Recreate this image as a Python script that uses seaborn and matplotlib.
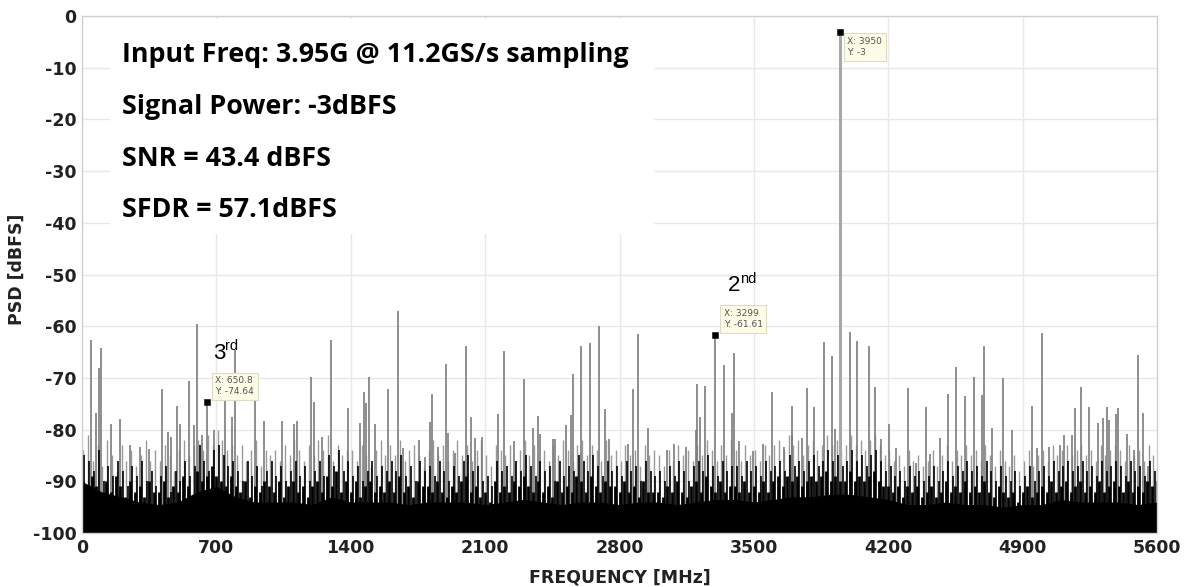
import numpy as np
import matplotlib
matplotlib.use("Agg")
import matplotlib.pyplot as plt
import seaborn as sns

# ---------------- data ----------------
x_ticks = [0, 700, 1400, 2100, 2800, 3500, 4200, 4900, 5600]
y_ticks = [0, -10, -20, -30, -40, -50, -60, -70, -80, -90, -100]

# solid noise floor top, one value per 100 MHz (0 ... 5600)
floor_db = [-90, -92, -93, -94, -94.5, -94, -92, -91, -93, -94,
            -94, -94, -94.5, -93, -94, -94, -94, -94.5, -94, -94,
            -94, -94.5, -94, -93.5, -94, -94.5, -94, -94, -94.5, -94,
            -94, -94.5, -94, -93.5, -93.5, -94, -93.5, -93, -93, -92.5,
            -92.5, -93, -93.5, -94.5, -94.5, -94, -94.5, -94.5, -95, -94.5,
            -94.5, -93.5, -94, -94, -94, -94.5, -94]

# black noise peaks, one value per 25 MHz
noise_db = [
    -85, -86, -88, -84, -90, -87, -89, -86,
    -88, -91, -87, -89, -86, -90, -88, -91,
    -89, -87, -92, -88, -90, -86, -89, -87,
    -83, -86, -88, -84, -83, -85, -87, -86,
    -88, -90, -86, -89, -87, -91, -88, -86,
    -89, -87, -90, -88, -86, -89, -87, -90,
    -88, -86, -89, -85, -87, -84, -88, -86,
    -89, -87, -90, -88, -86, -89, -87, -88,
    -86, -88, -85, -89, -87, -90, -86, -88,
    -87, -89, -86, -88, -90, -87, -89, -86,
    -85, -88, -87, -90, -89, -91, -86, -88,
    -87, -89, -86, -88, -85, -87, -89, -86,
    -88, -87, -90, -86, -89, -87, -88, -85,
    -86, -88, -85, -87, -89, -86, -88, -87,
    -89, -86, -88, -87, -90, -86, -88, -89,
    -88, -90, -87, -89, -86, -88, -90, -87,
    -86, -88, -85, -87, -89, -86, -88, -87,
    -87, -89, -86, -88, -87, -89, -86, -88,
    -87, -86, -88, -85, -87, -86, -88, -86,
    -85, -87, -86, -84, -86, -85, -87, -86,
    -84, -86, -85, -87, -85, -84, -86, -88,
    -87, -89, -88, -90, -87, -89, -88, -90,
    -89, -87, -90, -88, -86, -89, -87, -88,
    -86, -88, -87, -89, -86, -88, -90, -87,
    -89, -90, -88, -91, -89, -87, -90, -88,
    -87, -89, -86, -88, -87, -86, -88, -87,
    -86, -88, -87, -89, -86, -88, -87, -86,
    -87, -89, -86, -88, -87, -89, -86, -88,
]

# lower black noise texture, one value per 25 MHz
noise2_db = [
    -90, -92, -89, -91, -93, -90, -92, -89,
    -91, -93, -90, -92, -91, -93, -90, -92,
    -92, -90, -93, -91, -92, -89, -91, -93,
    -88, -90, -89, -87, -89, -90, -91, -89,
    -91, -92, -90, -93, -91, -92, -90, -91,
    -92, -90, -93, -91, -90, -92, -91, -93,
    -91, -90, -92, -89, -91, -88, -92, -90,
    -92, -90, -93, -91, -90, -92, -91, -92,
    -90, -92, -89, -92, -91, -93, -90, -91,
    -91, -92, -90, -92, -93, -91, -92, -90,
    -89, -92, -91, -93, -92, -94, -90, -92,
    -91, -92, -90, -91, -89, -91, -92, -90,
    -92, -91, -93, -90, -92, -91, -92, -89,
    -90, -92, -89, -91, -92, -90, -91, -91,
    -92, -90, -92, -91, -93, -90, -92, -92,
    -92, -93, -91, -92, -90, -92, -93, -91,
    -90, -92, -89, -91, -92, -90, -92, -91,
    -91, -92, -90, -92, -91, -92, -90, -92,
    -90, -89, -91, -89, -90, -89, -91, -90,
    -89, -90, -89, -88, -90, -89, -90, -90,
    -88, -90, -89, -90, -89, -88, -90, -91,
    -91, -92, -91, -93, -91, -92, -91, -93,
    -92, -91, -93, -92, -90, -92, -91, -92,
    -90, -92, -91, -92, -90, -92, -93, -91,
    -92, -93, -92, -94, -92, -91, -93, -92,
    -91, -92, -90, -92, -91, -90, -92, -91,
    -90, -92, -91, -92, -90, -92, -91, -90,
    -91, -92, -90, -92, -91, -92, -90, -91,
]

# grey low-level spurs, one value per 25 MHz
grey_db = [
    -84, -81, -86, -83, -87, -82, -85, -88,
    -83, -86, -84, -87, -85, -82, -86, -84,
    -86, -83, -85, -88, -84, -82, -85, -83,
    -82, -84, -81, -83, -80, -82, -84, -83,
    -85, -83, -86, -84, -82, -87, -84, -85,
    -84, -86, -83, -85, -82, -84, -86, -83,
    -85, -82, -84, -81, -86, -83, -85, -84,
    -84, -86, -83, -85, -87, -84, -82, -85,
    -83, -85, -82, -86, -84, -83, -85, -87,
    -84, -82, -85, -83, -86, -84, -82, -85,
    -83, -86, -84, -82, -85, -87, -83, -84,
    -85, -83, -86, -84, -82, -85, -83, -86,
    -84, -86, -83, -85, -82, -84, -86, -83,
    -82, -85, -83, -84, -86, -82, -85, -84,
    -86, -83, -85, -84, -87, -83, -85, -84,
    -85, -87, -84, -86, -83, -85, -84, -86,
    -83, -85, -82, -84, -86, -83, -85, -82,
    -84, -86, -83, -85, -84, -86, -83, -85,
    -83, -82, -84, -81, -83, -82, -85, -83,
    -82, -84, -83, -81, -83, -82, -84, -83,
    -81, -83, -82, -84, -82, -81, -83, -85,
    -84, -86, -85, -87, -84, -86, -85, -87,
    -86, -84, -87, -85, -83, -86, -84, -85,
    -83, -85, -84, -86, -83, -85, -87, -84,
    -86, -87, -85, -88, -86, -84, -87, -85,
    -84, -86, -83, -85, -84, -83, -85, -84,
    -83, -85, -84, -86, -83, -85, -84, -83,
    -84, -86, -83, -85, -84, -86, -83, -85,
]

# spurs (MHz, dBFS)
spur_freq = [0, 47, 75, 90, 99, 151, 199, 250, 301, 347, 419, 449, 464, 497, 511,
             558, 584, 600, 624, 650.8, 690, 747, 783, 797, 901, 950, 1041, 1102,
             1121, 1192, 1206, 1251, 1298, 1386, 1447, 1468, 1478, 1494, 1527, 1594,
             1648, 1674, 1753, 1787, 1813, 1822, 1852, 1897, 1904, 1945, 1999, 2025,
             2048, 2083, 2169, 2197, 2251, 2300, 2347, 2374, 2388, 2451, 2465, 2522,
             2548, 2557, 2597, 2644, 2694, 2725, 2743, 2842, 2871, 2897, 2951, 3050,
             3085, 3146, 3198, 3206, 3220, 3246, 3299, 3342, 3385, 3398, 3424, 3497,
             3549, 3597, 3656, 3696, 3701, 3753, 3777, 3815, 3866, 3905, 3924, 3999,
             4037, 4099, 4129, 4160, 4202, 4242, 4301, 4346, 4399, 4420, 4467, 4510,
             4555, 4599, 4645, 4690, 4699, 4740, 4800, 4846, 4949, 4973, 4999, 5039,
             5096, 5113, 5157, 5174, 5205, 5248, 5295, 5319, 5339, 5349, 5387, 5396,
             5446, 5479, 5500, 5526, 5554, 5600]
spur_db = [-78.6, -62.6, -76.7, -68, -64.3, -79, -78, -83, -83.3, -83.8, -72.1, -80.4, -81.4, -75.4, -79,
           -70.6, -79.2, -59.5, -81, -74.64, -80, -74, -77.6, -64.6, -72.3, -78.3, -78.3, -79,
           -78.3, -69.8, -74.6, -81.4, -62.6, -75.9, -78.8, -72.7, -74.9, -69.8, -78.9, -72.2,
           -57.1, -83.5, -82.1, -85.3, -78.5, -73.2, -83.3, -67.3, -80.7, -84.6, -63.8, -77.6,
           -81.7, -81.4, -77, -64.8, -82.3, -70.2, -79.7, -77.4, -80.8, -81.9, -81.9, -79.2,
           -77.2, -69.3, -63.9, -63.2, -59.9, -76.1, -81.9, -82.8, -72.2, -61.6, -79.6, -84,
           -82.8, -83.3, -80.1, -71.2, -77.5, -71.6, -61.61, -67.5, -76.8, -65.1, -82.3, -84.2,
           -82.8, -72.7, -83.3, -81, -75.4, -81.7, -72, -75.7, -63, -65.8, -79.9, -61.2,
           -62.8, -63.9, -71.7, -81.9, -78.9, -83.5, -72, -86.4, -75.7, -84.8, -81.7, -73.2,
           -67.8, -73.5, -69.8, -73.3, -63.9, -79.7, -70, -80, -75.4, -83.5, -61.3, -83.3,
           -83, -81, -81, -75.9, -71.7, -75.7, -78.8, -77.8, -75.7, -78.1, -77, -75.9,
           -80.8, -83.9, -65.5, -76.8, -87.1, -90]

tone_freq = 3950
tone_db = -3

tip_freq = [650.8, 3299, 3950]
tip_db = [-74.64, -61.61, -3]
tip_labels = ["X: 650.8\nY: -74.64", "X: 3299\nY: -61.61", "X: 3950\nY: -3"]

info_lines = ["Input Freq: 3.95G @ 11.2GS/s sampling",
              "Signal Power: -3dBFS",
              "SNR = 43.4 dBFS",
              "SFDR = 57.1dBFS"]

# ---------------- plot ----------------
sns.set_theme(style="whitegrid")
plt.rcParams["font.family"] = ["DejaVu Sans"]
plt.rcParams["axes.unicode_minus"] = False

fig = plt.figure(figsize=(11.94, 5.87), dpi=100)
ax = fig.add_axes([82 / 1194, 1 - 533 / 587, (1157 - 82) / 1194, (533 - 16) / 587])

ymin = -100
# grey low-level spurs
grey_freq = np.arange(len(grey_db)) * 25 + 6
ax.vlines(grey_freq, ymin, grey_db, color="#9a9a9a", lw=1.0, zorder=2.05)
# spurs
ax.vlines(spur_freq, ymin, spur_db, color="#7c7c7c", lw=1.2, zorder=2.1)
# main tone
ax.vlines([tone_freq], ymin, [tone_db], color="#a8a8a8", lw=2.2, zorder=2.15)
# lower noise texture
noise2_freq = np.arange(len(noise2_db)) * 25
ax.vlines(noise2_freq, ymin, noise2_db, color="black", lw=2.0, zorder=2.2)
# solid floor
floor_freq = np.arange(len(floor_db)) * 100
ax.fill_between(floor_freq, ymin, floor_db, color="black", lw=0, zorder=2.25)
# black noise peaks
noise_freq = np.arange(len(noise_db)) * 25 + 12.5
ax.vlines(noise_freq, ymin, noise_db, color="black", lw=1.2, zorder=2.3)

# data tips
sns.scatterplot(x=tip_freq, y=tip_db, marker="s", color="black", s=22,
                edgecolor="black", ax=ax, zorder=6)
tip_offsets = [(6, 4), (6, 4), (5, -4)]
for f, d, lab, off in zip(tip_freq, tip_db, tip_labels, tip_offsets):
    ax.annotate(lab, (f, d), xytext=off, textcoords="offset points",
                ha="left", va="top" if off[1] < 0 else "bottom",
                fontsize=6.5, color="#555555", linespacing=1.3,
                bbox=dict(boxstyle="square,pad=0.4", fc="#fbfbe6", ec="#dcdcc4", lw=0.8),
                zorder=7)

# harmonic labels
ax.text(682, -65.2, "3", fontsize=16, va="center", ha="left", family="Liberation Sans", color="black", zorder=8)
ax.text(745, -63.8, "rd", fontsize=10.5, va="center", ha="left", family="Liberation Sans", color="black", zorder=8)
ax.text(3365, -52.2, "2", fontsize=16, va="center", ha="left", family="Liberation Sans", color="black", zorder=8)
ax.text(3428, -50.8, "nd", fontsize=10.5, va="center", ha="left", family="Liberation Sans", color="black", zorder=8)

# info box (white background hiding grid)
ax.fill_between([146, 2980], -42.2, -0.6, color="white", lw=0, zorder=1.5)
for i, line in enumerate(info_lines):
    ax.text(208, -7.6 - 10 * i, line, fontsize=19.4, fontweight="bold",
            family="Open Sans", color="black", va="center", ha="left", zorder=8)

ax.set_xlim(0, 5600)
ax.set_ylim(-100, 0)
ax.set_xticks(x_ticks)
ax.set_yticks(y_ticks)
ax.tick_params(axis="both", labelsize=12.5, colors="#222222", length=0, pad=4)
for lab in ax.get_xticklabels() + ax.get_yticklabels():
    lab.set_fontweight("bold")
ax.grid(True, color="#e8e8e8", lw=1.0)
for s in ax.spines.values():
    s.set_color("#d0d0d0")
    s.set_linewidth(1.0)
ax.set_xlabel("FREQUENCY [MHz]", fontsize=12.5, fontweight="bold", color="#222222")
ax.set_ylabel("PSD [dBFS]", fontsize=12.5, fontweight="bold", color="#222222")
ax.xaxis.set_label_coords(0.5, -0.068)
ax.yaxis.set_label_coords(-0.052, 0.51)

fig.savefig("out.png", dpi=100, facecolor="white")
